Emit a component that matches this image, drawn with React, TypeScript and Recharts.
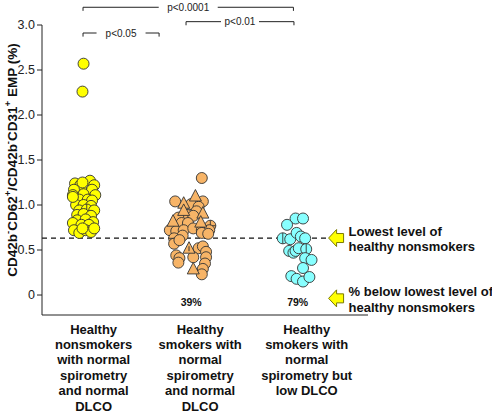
import { ScatterChart, Scatter, XAxis, YAxis, ReferenceLine, ReferenceDot } from 'recharts';

// group positions on the x axis and their (multi-line) labels
const groupPositions = [1, 2, 3];
const groupNames = [
  ['Healthy', 'nonsmokers', 'with normal', 'spirometry', 'and normal', 'DLCO'],
  ['Healthy', 'smokers with', 'normal', 'spirometry', 'and normal', 'DLCO'],
  ['Healthy', 'smokers with', 'normal', 'spirometry but', 'low DLCO'],
];
const yTicks = [0, 0.5, 1, 1.5, 2, 2.5, 3];

// healthy nonsmokers (yellow)
const nonsmokerEmp = [
  1.24, 1.22, 1.27, 1.22, 1.17, 1.17, 1.17, 1.11, 1.12, 1.11, 1.06, 1.06, 1.05,
  1.0, 1.0, 0.99, 0.94, 0.95, 0.94, 0.89, 0.9, 0.88, 0.83, 0.84, 0.81, 0.8, 0.78,
  0.78, 0.72, 0.69, 0.72, 0.7, 0.74, 0.74, 1.09, 1.25, 2.57, 2.26,
];
const nonsmokerJitter = [
  -0.09, -0.04, 0.05, 0.09, -0.03, -0.1, 0.07, -0.11, -0.01, 0.1, -0.05, 0.03, 0.07,
  -0.08, -0.01, 0.06, -0.05, 0.02, 0.09, -0.07, -0.01, 0.06, -0.07, 0.01, 0.08, -0.11, -0.03,
  0.04, -0.1, -0.05, 0.01, 0.06, -0.02, 0.09, -0.11, -0.02, -0.01, -0.02,
];
const nonsmokerMarks: Record<number, string> = { 17: 'v' };

// healthy smokers, normal DLCO (orange) - circles and triangles
const smokerCircleEmp = [
  1.3, 1.04, 1.01, 1.04, 0.98, 0.93, 0.89, 0.88, 0.86, 0.8, 0.8, 0.77, 0.72, 0.71,
  0.72, 0.74, 0.72, 0.72, 0.69, 0.68, 0.66,
  0.63, 0.57, 0.61, 0.52, 0.54, 0.48, 0.44, 0.41, 0.42, 0.42, 0.35, 0.36, 0.29, 0.23,
];
const smokerCircleJitter = [
  0.1, -0.15, 0.0, 0.11, 0.07, 0.05, -0.04, 0.02, -0.12, -0.09, -0.03, 0.18, -0.2, -0.14,
  -0.07, 0.02, 0.1, 0.17, 0.1, 0.16, -0.08,
  -0.16, -0.16, -0.11, 0.07, 0.11, 0.14, -0.14, -0.11, 0.02, 0.14, 0.13, -0.12, 0.11, 0.1,
];
const smokerCircleMarks: Record<number, string> = { 11: '+', 21: 'h' };
const smokerTriangleEmp = [1.1, 1.02, 0.94, 0.91, 0.82, 0.81, 0.52, 0.29];
const smokerTriangleJitter = [0.04, -0.07, -0.07, 0.11, -0.17, 0.09, -0.02, 0.02];
const smokerTriangleMarks: Record<number, string> = { 6: 'v' };

// healthy smokers, low DLCO (cyan)
const lowDlcoEmp = [
  0.85, 0.85, 0.78, 0.63, 0.62, 0.69, 0.65, 0.63, 0.49, 0.47, 0.49, 0.52, 0.51, 0.41,
  0.39, 0.3, 0.21, 0.18, 0.15, 0.2,
];
const lowDlcoJitter = [
  -0.02, 0.05, -0.1, -0.14, -0.07, -0.01, 0.03, 0.07, -0.08, -0.04, -0.02, 0.01, 0.08, 0.07,
  0.13, 0.05, -0.06, -0.01, 0.05, 0.11,
];
const lowDlcoMarks: Record<number, string> = { 3: 'v', 12: 'v' };

const lowestNonsmokerLevel = 0.633;
const percentBelow = ['39%', '79%'];
const percentGroups = [2, 3];

const brackets = [
  { from: 0.985, to: 2.96, level: 3.197, text: 'p<0.0001' },
  { from: 1.952, to: 2.965, level: 3.037, text: 'p<0.01' },
  { from: 0.985, to: 1.699, level: 2.911, text: 'p<0.05' },
];
const bracketGaps = [59, 38, 49];

const build = (group: number, emp: number[], jitter: number[], marks: Record<number, string>) =>
  emp.map((v, i) => ({ x: group + jitter[i], y: v, mark: marks[i] || '' }));

const nonsmokers = build(1, nonsmokerEmp, nonsmokerJitter, nonsmokerMarks);
const smokerCircles = build(2, smokerCircleEmp, smokerCircleJitter, smokerCircleMarks);
const smokerTriangles = build(2, smokerTriangleEmp, smokerTriangleJitter, smokerTriangleMarks);
const lowDlco = build(3, lowDlcoEmp, lowDlcoJitter, lowDlcoMarks);

const INK = '#222';

function Dot(props: any) {
  const { cx, cy, fill, payload } = props;
  const r = 5.5;
  const mark = payload?.mark;
  return (
    <g>
      <circle cx={cx} cy={cy} r={r} fill={fill} stroke="#333" strokeWidth={0.9} />
      {(mark === 'v' || mark === '+') && (
        <line x1={cx} y1={cy - r} x2={cx} y2={cy + r} stroke="#333" strokeWidth={0.9} />
      )}
      {(mark === 'h' || mark === '+') && (
        <line x1={cx - r} y1={cy} x2={cx + r} y2={cy} stroke="#333" strokeWidth={0.9} />
      )}
    </g>
  );
}

function Tri(props: any) {
  const { cx, cy, fill, payload } = props;
  return (
    <g>
      <polygon
        points={`${cx},${cy - 6.5} ${cx - 6},${cy + 5} ${cx + 6},${cy + 5}`}
        fill={fill}
        stroke="#333"
        strokeWidth={0.9}
      />
      {payload?.mark === 'v' && (
        <line x1={cx} y1={cy - 2} x2={cx} y2={cy + 3} stroke="#333" strokeWidth={1} />
      )}
    </g>
  );
}

function GroupTick(props: any) {
  const { x, y, payload } = props;
  const lines = groupNames[groupPositions.indexOf(payload.value)] || [];
  const cx = x + 9;
  return (
    <text x={cx} y={y} textAnchor="middle" fontSize={13} fontWeight="bold" fill="#111">
      {lines.map((l, i) => (
        <tspan key={i} x={cx} dy={i === 0 ? 18.5 : 15.4}>
          {l}
        </tspan>
      ))}
    </text>
  );
}

function YLabel() {
  const x = 12;
  const y = 160;
  return (
    <text
      x={x}
      y={y}
      transform={`rotate(-90 ${x} ${y})`}
      textAnchor="middle"
      dominantBaseline="central"
      fontSize={13.5}
      fontWeight="bold"
      fill="#111"
    >
      CD42b<tspan dy={-5} fontSize={9.5}>-</tspan>
      <tspan dy={5}>CD62</tspan>
      <tspan dy={-5} fontSize={9.5}>+</tspan>
      <tspan dy={5}>/CD42b</tspan>
      <tspan dy={-5} fontSize={9.5}>-</tspan>
      <tspan dy={5}>CD31</tspan>
      <tspan dy={-5} fontSize={9.5}>+</tspan>
      <tspan dy={5}> EMP (%)</tspan>
    </text>
  );
}

function BracketLabel(props: any) {
  const { viewBox, text, gap } = props;
  const cx = viewBox.x + viewBox.width / 2;
  const cy = viewBox.y;
  return (
    <g>
      <rect x={cx - gap / 2} y={cy - 3} width={gap} height={6} fill="#fff" />
      <text x={cx} y={cy + 3.5} textAnchor="middle" fontSize={10} fill={INK}>
        {text}
      </text>
    </g>
  );
}

function Pointer(props: any) {
  const { cx, cy, lines } = props;
  const pts = [
    [cx, cy],
    [cx + 8, cy - 8.5],
    [cx + 8, cy - 4.5],
    [cx + 15, cy - 4.5],
    [cx + 15, cy + 4.5],
    [cx + 8, cy + 4.5],
    [cx + 8, cy + 8.5],
  ]
    .map((p) => p.join(','))
    .join(' ');
  return (
    <g>
      <polygon points={pts} fill="#FFFF00" stroke="#7a7a00" strokeWidth={1} />
      <text x={cx + 20} y={cy - 2.5} fontSize={13} fontWeight="bold" fill="#111">
        {lines.map((l: string, i: number) => (
          <tspan key={i} x={cx + 20} dy={i === 0 ? 0 : 15.8}>
            {l}
          </tspan>
        ))}
      </text>
    </g>
  );
}

export default function App() {
  return (
    <div
      style={{
        position: 'absolute',
        left: 0,
        top: 0,
        width: 492,
        height: 414,
        background: '#fff',
        fontFamily: '"Liberation Sans", Arial, sans-serif',
      }}
    >
      <ScatterChart width={492} height={414} margin={{ top: 25, right: 124, bottom: 0, left: 0 }}>
        <XAxis
          type="number"
          dataKey="x"
          domain={[0.6, 3.66]}
          ticks={groupPositions}
          tickLine={false}
          tickSize={0}
          tickMargin={0}
          height={99}
          axisLine={{ stroke: INK }}
          tick={<GroupTick />}
          interval={0}
        />
        <YAxis
          type="number"
          dataKey="y"
          domain={[-0.222, 3]}
          ticks={yTicks}
          width={42}
          tickSize={5}
          tickMargin={2}
          axisLine={{ stroke: INK }}
          tickLine={{ stroke: INK }}
          tick={{ fontSize: 12.5, fill: INK }}
          tickFormatter={(v: number) => (v === 0 ? '0' : v.toFixed(1))}
          label={<YLabel />}
        />
        <ReferenceLine
          segment={[
            { x: 0.6, y: lowestNonsmokerLevel },
            { x: 3.27, y: lowestNonsmokerLevel },
          ]}
          stroke="#111"
          strokeWidth={1.2}
          strokeDasharray="5 4"
          ifOverflow="visible"
        />
        {brackets.map((b, i) => (
          <ReferenceLine
            key={'b' + i}
            segment={[
              { x: b.from, y: b.level },
              { x: b.to, y: b.level },
            ]}
            stroke={INK}
            strokeWidth={1}
            ifOverflow="visible"
            label={<BracketLabel text={b.text} gap={bracketGaps[i]} />}
          />
        ))}
        {brackets.flatMap((b, i) =>
          [b.from, b.to].map((x, j) => (
            <ReferenceLine
              key={`t${i}-${j}`}
              segment={[
                { x, y: b.level },
                { x, y: b.level - 0.04 },
              ]}
              stroke={INK}
              strokeWidth={1}
              ifOverflow="visible"
            />
          ))
        )}
        <Scatter data={nonsmokers} fill="#FFFF00" shape={<Dot />} isAnimationActive={false} />
        <Scatter data={smokerCircles} fill="#F7B467" shape={<Dot />} isAnimationActive={false} />
        <Scatter data={smokerTriangles} fill="#F7B467" shape={<Tri />} isAnimationActive={false} />
        <Scatter data={lowDlco} fill="#88FFFF" shape={<Dot />} isAnimationActive={false} />
        {percentBelow.map((t, i) => (
          <ReferenceDot
            key={'p' + i}
            x={percentGroups[i]}
            y={-0.078}
            ifOverflow="visible"
            shape={(p: any) => (
              <text x={p.cx} y={p.cy + 4} textAnchor="middle" fontSize={10.5} fontWeight="bold" fill="#111">
                {t}
              </text>
            )}
          />
        ))}
        <ReferenceDot
          x={3.29}
          y={lowestNonsmokerLevel}
          ifOverflow="visible"
          shape={(p: any) => <Pointer cx={p.cx} cy={p.cy} lines={['Lowest level of', 'healthy nonsmokers']} />}
        />
        <ReferenceDot
          x={3.29}
          y={-0.037}
          ifOverflow="visible"
          shape={(p: any) => (
            <Pointer cx={p.cx} cy={p.cy} lines={['% below lowest level of', 'healthy nonsmokers']} />
          )}
        />
      </ScatterChart>
    </div>
  );
}
